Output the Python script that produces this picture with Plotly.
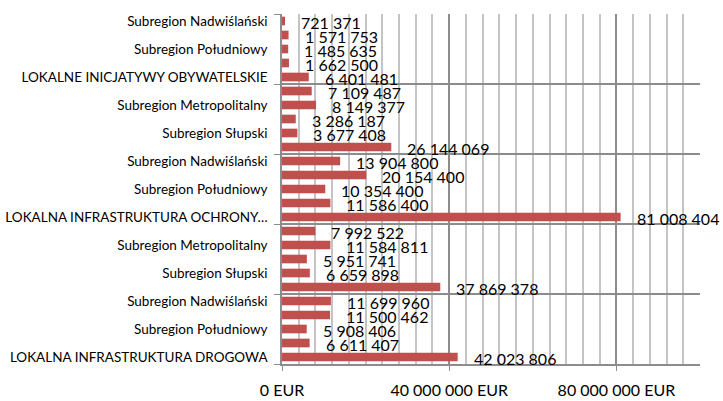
import plotly.graph_objects as go

# categories bottom -> top (empty = label hidden in the original)
labels = ['LOKALNA INFRASTRUKTURA DROGOWA', '', 'Subregion Południowy', '', 'Subregion Nadwiślański',
          '', 'Subregion Słupski', '', 'Subregion Metropolitalny', '',
          'LOKALNA INFRASTRUKTURA OCHRONY…', '', 'Subregion Południowy', '', 'Subregion Nadwiślański',
          '', 'Subregion Słupski', '', 'Subregion Metropolitalny', '',
          'LOKALNE INICJATYWY OBYWATELSKIE', '', 'Subregion Południowy', '', 'Subregion Nadwiślański']
values = [42023806, 6611407, 5908406, 11500462, 11699960,
          37869378, 6659898, 5951741, 11584811, 7992522,
          81008404, 11586400, 10354400, 20154400, 13904800,
          26144069, 3677408, 3286187, 8149377, 7109487,
          6401481, 1662500, 1485635, 1571753, 721371]
x_ticks = [0, 40000000, 80000000]
x_ticktext = ['0 EUR', '40 000 000 EUR', '80 000 000 EUR']
group_size = 5

pos = list(range(len(values)))
font = 'Lato, Calibri, Arial, sans-serif'

fig = go.Figure()
fig.add_trace(go.Bar(x=values, y=pos, orientation='h', marker_color='#C0504D',
                     marker_line_width=0, width=0.62, cliponaxis=False))

for p, v in zip(pos, values):
    fig.add_annotation(x=v, y=p, text=f'{v:,}'.replace(',', ' '), showarrow=False,
                       xanchor='left', yanchor='middle', xshift=14, yshift=-1,
                       font=dict(family=font, size=16, color='black'))

shown = [p for p in pos if labels[p]]
bounds = [i - 0.5 for i in range(0, len(values) + 1, group_size)]

fig.update_layout(
    width=723, height=401,
    margin=dict(l=282, r=23, t=14, b=37, autoexpand=False),
    plot_bgcolor='white', paper_bgcolor='white',
    showlegend=False,
    xaxis=dict(range=[0, 100000000], tickvals=x_ticks, ticktext=x_ticktext,
               showgrid=True, gridcolor='#8C8C8C', gridwidth=1.5,
               ticks='outside', ticklen=5, tickcolor='#8C8C8C',
               minor=dict(dtick=4000000, showgrid=True, gridcolor='#C4C4C4', gridwidth=1.5),
               showline=True, linecolor='#8C8C8C', linewidth=1.5,
               tickfont=dict(family=font, size=16, color='black'),
               ticklabelstandoff=6, zeroline=False, automargin=False, fixedrange=True),
    yaxis=dict(range=[-0.5, len(values) - 0.5], tickvals=shown,
               ticktext=[labels[p] for p in shown],
               showgrid=False, ticks='', ticklabelstandoff=10,
               minor=dict(tickvals=bounds, ticks='outside', ticklen=6, tickcolor='#8C8C8C',
                          showgrid=True, gridcolor='#8C8C8C', gridwidth=1.5),
               showline=True, linecolor='#8C8C8C', linewidth=1.5,
               tickfont=dict(family=font, size=13.5, color='black'),
               zeroline=False, automargin=False, fixedrange=True),
)

fig.write_html('out.html', config={'displayModeBar': False},
               post_script="document.body.style.margin='0';")
